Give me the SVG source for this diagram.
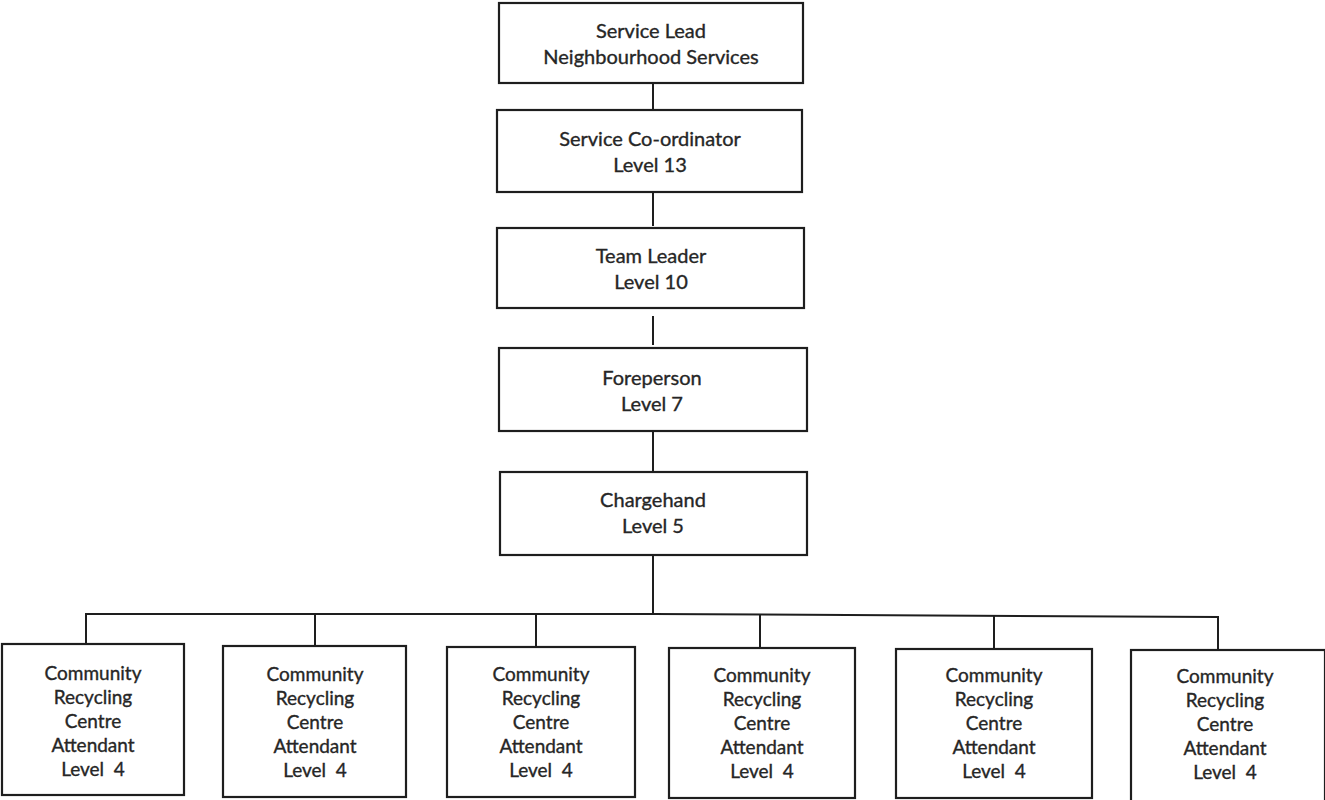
<svg xmlns="http://www.w3.org/2000/svg" width="1325" height="800" viewBox="0 0 1325 800">
<style>
.box{fill:#fff;stroke:#1e1e1e;stroke-width:2.2}
.t{font-family:Lato,"Open Sans","Liberation Sans",sans-serif;font-size:19px;fill:#262626;stroke:#262626;stroke-width:0.35;text-anchor:middle;white-space:pre}
.u{font-size:20px}
.c{stroke:#1e1e1e;stroke-width:2;fill:none}
</style>
<rect width="1325" height="800" fill="#fff"/>
<g id="connectors">
<line class="c" x1="653" y1="83" x2="653" y2="110"/>
<line class="c" x1="653" y1="192" x2="653" y2="226"/>
<line class="c" x1="653" y1="316" x2="653" y2="345"/>
<line class="c" x1="653" y1="431" x2="653" y2="471"/>
<line class="c" x1="653" y1="555" x2="653" y2="615"/>
<polyline class="c" points="86,644 86,614 653,614 1218,617 1218,650"/>
<line class="c" x1="315" y1="614" x2="315" y2="646"/>
<line class="c" x1="536" y1="615" x2="536" y2="647"/>
<line class="c" x1="760" y1="615" x2="760" y2="648"/>
<line class="c" x1="994" y1="616" x2="994" y2="649"/>
</g>
<g id="service-lead"><rect class="box" x="499" y="3" width="304" height="80"/>
<text class="t u" x="651" y="38">Service Lead</text><text class="t u" x="651" y="64">Neighbourhood Services</text></g>
<g id="service-coordinator"><rect class="box" x="497" y="110" width="305" height="82"/>
<text class="t u" x="650" y="146">Service Co-ordinator</text><text class="t u" x="650" y="172">Level 13</text></g>
<g id="team-leader"><rect class="box" x="497" y="228" width="307" height="80"/>
<text class="t u" x="651" y="263">Team Leader</text><text class="t u" x="651" y="289">Level 10</text></g>
<g id="foreperson"><rect class="box" x="499" y="348" width="308" height="83"/>
<text class="t u" x="652" y="385">Foreperson</text><text class="t u" x="652" y="411">Level 7</text></g>
<g id="chargehand"><rect class="box" x="500" y="472" width="307" height="83"/>
<text class="t u" x="653" y="507">Chargehand</text><text class="t u" x="653" y="533">Level 5</text></g>
<g id="attendant-1"><rect class="box" x="2" y="644" width="182" height="151"/>
<text class="t" x="93"><tspan x="93" y="680">Community</tspan><tspan x="93" y="704">Recycling</tspan><tspan x="93" y="728">Centre</tspan><tspan x="93" y="752">Attendant</tspan><tspan x="93" y="776">Level  4</tspan></text></g>
<g id="attendant-2"><rect class="box" x="223" y="646" width="183" height="151"/>
<text class="t" x="315"><tspan x="315" y="681">Community</tspan><tspan x="315" y="705">Recycling</tspan><tspan x="315" y="729">Centre</tspan><tspan x="315" y="753">Attendant</tspan><tspan x="315" y="777">Level  4</tspan></text></g>
<g id="attendant-3"><rect class="box" x="447" y="647" width="188" height="150"/>
<text class="t" x="541"><tspan x="541" y="681">Community</tspan><tspan x="541" y="705">Recycling</tspan><tspan x="541" y="729">Centre</tspan><tspan x="541" y="753">Attendant</tspan><tspan x="541" y="777">Level  4</tspan></text></g>
<g id="attendant-4"><rect class="box" x="669" y="648" width="186" height="150"/>
<text class="t" x="762"><tspan x="762" y="682">Community</tspan><tspan x="762" y="706">Recycling</tspan><tspan x="762" y="730">Centre</tspan><tspan x="762" y="754">Attendant</tspan><tspan x="762" y="778">Level  4</tspan></text></g>
<g id="attendant-5"><rect class="box" x="896" y="649" width="196" height="149"/>
<text class="t" x="994"><tspan x="994" y="682">Community</tspan><tspan x="994" y="706">Recycling</tspan><tspan x="994" y="730">Centre</tspan><tspan x="994" y="754">Attendant</tspan><tspan x="994" y="778">Level  4</tspan></text></g>
<g id="attendant-6"><rect class="box" x="1131" y="650" width="194" height="152"/>
<text class="t" x="1225"><tspan x="1225" y="683">Community</tspan><tspan x="1225" y="707">Recycling</tspan><tspan x="1225" y="731">Centre</tspan><tspan x="1225" y="755">Attendant</tspan><tspan x="1225" y="779">Level  4</tspan></text></g>
</svg>
